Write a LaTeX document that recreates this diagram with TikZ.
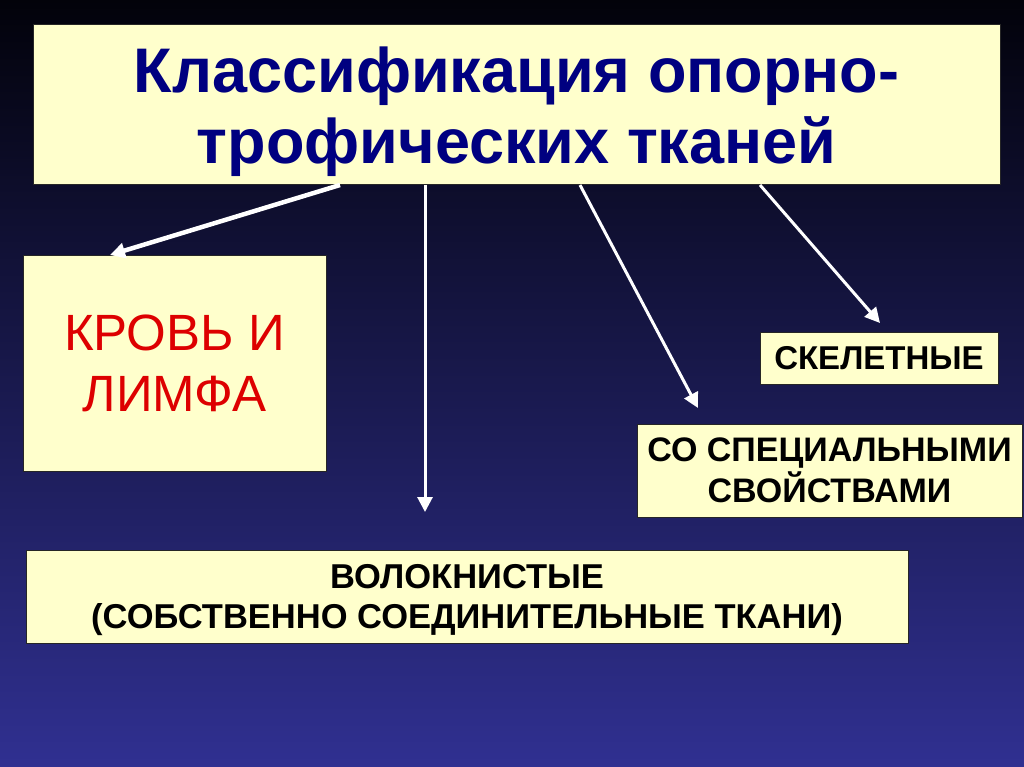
\documentclass[tikz,border=0pt]{standalone}
\usepackage{fontspec}
\setmainfont{Liberation Sans}
\usetikzlibrary{arrows.meta}
\definecolor{paleyel}{RGB}{255,255,204}
\definecolor{titleblue}{RGB}{0,0,128}
\definecolor{bloodred}{RGB}{221,0,0}
\definecolor{bgtop}{RGB}{2,2,10}
\definecolor{bgmid}{RGB}{32,32,100}
\definecolor{bgbot}{RGB}{48,48,145}

\begin{document}
\begin{tikzpicture}[x=1pt,y=-1pt,
  tbox/.style={draw=black!85,line width=1pt,fill=paleyel,inner sep=0pt,outer sep=0pt,align=center},
  arr/.style={draw=white,line width=3pt,-{Triangle[width=15pt,length=15pt]}}]
\path[use as bounding box] (0,0) rectangle (1024,767);
\shade[top color=bgtop,middle color=bgmid,bottom color=bgbot] (0,0) rectangle (1024,767);

\node[tbox,minimum width=967,minimum height=160,text depth=-5pt,text=titleblue,font=\bfseries\fontsize{63}{71}\selectfont] (title) at (516.5,105) {Классификация опорно-\\трофических тканей};
\node[tbox,minimum width=303,minimum height=216,text=bloodred,font=\fontsize{51}{61}\selectfont] (blood) at (174.5,363) {КРОВЬ И\\ЛИМФА};
\node[tbox,minimum width=238,minimum height=52,font=\bfseries\fontsize{33}{40}\selectfont] (skel) at (879,358) {СКЕЛЕТНЫЕ};
\node[tbox,minimum width=385,minimum height=93,font=\bfseries\fontsize{34}{41}\selectfont] (spec) at (829.5,470.5) {СО СПЕЦИАЛЬНЫМИ\\СВОЙСТВАМИ};
\node[tbox,minimum width=882,minimum height=93,text depth=-1pt,font=\bfseries\fontsize{34.5}{40}\selectfont] (fib) at (467,596.5) {ВОЛОКНИСТЫЕ\\(СОБСТВЕННО СОЕДИНИТЕЛЬНЫЕ ТКАНИ)};

% free ends of the arrows
\coordinate (e2) at (425,512);
\coordinate (e3) at (698,408);
\coordinate (e4) at (880,323);

\draw[arr,line width=4.5pt] (title.south -| 340,0) -- (blood.north -| 110,0);
\draw[arr] (title.south -| 425,0) -- (e2);
\draw[arr] (title.south -| 580,0) -- (e3);
\draw[arr] (title.south -| 760,0) -- (e4);
\end{tikzpicture}
\end{document}
